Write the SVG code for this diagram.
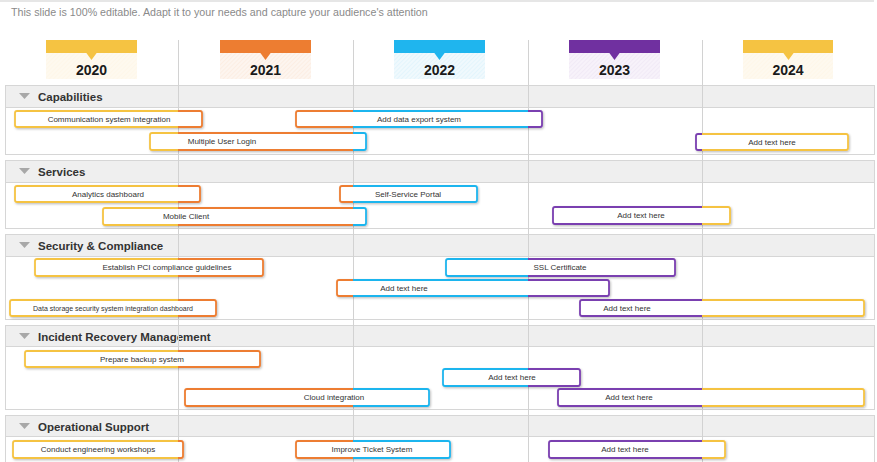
<svg xmlns="http://www.w3.org/2000/svg" width="877" height="462" viewBox="0 0 877 462">
<defs>
<style>
.sub{font-family:"Liberation Sans",Arial,sans-serif;font-size:10.7px;fill:#8a8a8a}
.yr{font-family:"Liberation Sans",Arial,sans-serif;font-size:14px;font-weight:bold;fill:#1a1a1a;text-anchor:middle}
.sec-band{fill:#efefef;stroke:#d6d6d6;stroke-width:1}
.sec-box{fill:#ffffff;stroke:#d6d6d6;stroke-width:1}
.sec-t{font-family:"Liberation Sans",Arial,sans-serif;font-size:11.5px;font-weight:bold;fill:#333333}
.tri{fill:#a8a8a8}
.col{stroke:#d2d2d2;stroke-width:1}
.bar{fill:#ffffff;stroke:url(#yearStroke);stroke-width:1.8;filter:url(#sh)}
.bt{font-family:"Liberation Sans",Arial,sans-serif;font-size:8px;fill:#333333;text-anchor:middle}
</style>
<linearGradient id="yearStroke" gradientUnits="userSpaceOnUse" x1="0" y1="0" x2="877" y2="0">
<stop offset="0" stop-color="#F5C342"/><stop offset="0.2030" stop-color="#F5C342"/>
<stop offset="0.2030" stop-color="#ED7D31"/><stop offset="0.4025" stop-color="#ED7D31"/>
<stop offset="0.4025" stop-color="#1FB5EE"/><stop offset="0.6021" stop-color="#1FB5EE"/>
<stop offset="0.6021" stop-color="#7A3FB0"/><stop offset="0.8005" stop-color="#7A3FB0"/>
<stop offset="0.8005" stop-color="#F5C342"/><stop offset="1" stop-color="#F5C342"/>
</linearGradient>
<filter id="sh" x="-5%" y="-30%" width="110%" height="170%">
<feDropShadow dx="1" dy="1.2" stdDeviation="0.8" flood-color="#000" flood-opacity="0.25"/>
</filter>
<pattern id="hY" width="3" height="3" patternUnits="userSpaceOnUse" patternTransform="rotate(45)">
<rect width="3" height="3" fill="#FEF9EF"/><line x1="0" y1="0" x2="0" y2="3" stroke="#F5C342" stroke-opacity="0.08" stroke-width="1"/>
</pattern>
<pattern id="hO" width="3" height="3" patternUnits="userSpaceOnUse" patternTransform="rotate(45)">
<rect width="3" height="3" fill="#FDF5EF"/><line x1="0" y1="0" x2="0" y2="3" stroke="#ED7D31" stroke-opacity="0.16" stroke-width="0.8"/>
</pattern>
<pattern id="hB" width="3" height="3" patternUnits="userSpaceOnUse" patternTransform="rotate(45)">
<rect width="3" height="3" fill="#F0F9FD"/><line x1="0" y1="0" x2="0" y2="3" stroke="#1FB5EE" stroke-opacity="0.16" stroke-width="0.8"/>
</pattern>
<pattern id="hP" width="3" height="3" patternUnits="userSpaceOnUse" patternTransform="rotate(45)">
<rect width="3" height="3" fill="#F7F2FA"/><line x1="0" y1="0" x2="0" y2="3" stroke="#7030A0" stroke-opacity="0.12" stroke-width="0.8"/>
</pattern>
</defs>
<rect width="877" height="462" fill="#ffffff"/>
<rect x="0" y="0" width="874" height="2" fill="#e6e6e6"/>
<text class="sub" x="11" y="16">This slide is 100% editable. Adapt it to your needs and capture your audience's attention</text>

<g id="sections">
<g id="sec-capabilities">
<rect class="sec-box" x="5.5" y="85.5" width="869" height="69"/>
<rect class="sec-band" x="5.5" y="85.5" width="869" height="22"/>
<polygon class="tri" points="19,93 30,93 24.5,99"/>
<text class="sec-t" x="38" y="101">Capabilities</text>
</g>
<g id="sec-services">
<rect class="sec-box" x="5.5" y="160.5" width="869" height="68"/>
<rect class="sec-band" x="5.5" y="160.5" width="869" height="22"/>
<polygon class="tri" points="19,168 30,168 24.5,174"/>
<text class="sec-t" x="38" y="176">Services</text>
</g>
<g id="sec-security">
<rect class="sec-box" x="5.5" y="234.5" width="869" height="85"/>
<rect class="sec-band" x="5.5" y="234.5" width="869" height="22"/>
<polygon class="tri" points="19,242 30,242 24.5,248"/>
<text class="sec-t" x="38" y="250">Security &amp; Compliance</text>
</g>
<g id="sec-incident">
<rect class="sec-box" x="5.5" y="325.5" width="869" height="84"/>
<rect class="sec-band" x="5.5" y="325.5" width="869" height="21"/>
<polygon class="tri" points="19,333 30,333 24.5,339"/>
<text class="sec-t" x="38" y="341">Incident Recovery Management</text>
</g>
<g id="sec-operational">
<rect class="sec-box" x="5.5" y="415.5" width="869" height="52"/>
<rect class="sec-band" x="5.5" y="415.5" width="869" height="21"/>
<polygon class="tri" points="19,423 30,423 24.5,429"/>
<text class="sec-t" x="38" y="431">Operational Support</text>
</g>
</g>

<g id="columns">
<line class="col" x1="178.5" y1="40" x2="178.5" y2="462"/>
<line class="col" x1="353.5" y1="40" x2="353.5" y2="462"/>
<line class="col" x1="528.5" y1="40" x2="528.5" y2="462"/>
<line class="col" x1="702.5" y1="40" x2="702.5" y2="462"/>
</g>

<g id="year-2020">
<rect x="46" y="53" width="91" height="26" fill="url(#hY)"/>
<rect x="46" y="40" width="91" height="13" fill="#F5C342"/>
<polygon points="86,52.5 97,52.5 91.5,60" fill="#F5C342"/>
<text class="yr" x="91.5" y="75">2020</text>
</g>
<g id="year-2021">
<rect x="220" y="53" width="91" height="26" fill="url(#hO)"/>
<rect x="220" y="40" width="91" height="13" fill="#ED7D31"/>
<polygon points="260,52.5 271,52.5 265.5,60" fill="#ED7D31"/>
<text class="yr" x="265.5" y="75">2021</text>
</g>
<g id="year-2022">
<rect x="394" y="53" width="91" height="26" fill="url(#hB)"/>
<rect x="394" y="40" width="91" height="13" fill="#1FB5EE"/>
<polygon points="434,52.5 445,52.5 439.5,60" fill="#1FB5EE"/>
<text class="yr" x="439.5" y="75">2022</text>
</g>
<g id="year-2023">
<rect x="569" y="53" width="91" height="26" fill="url(#hP)"/>
<rect x="569" y="40" width="91" height="13" fill="#7030A0"/>
<polygon points="609,52.5 620,52.5 614.5,60" fill="#7030A0"/>
<text class="yr" x="614.5" y="75">2023</text>
</g>
<g id="year-2024">
<rect x="743" y="53" width="90" height="26" fill="url(#hY)"/>
<rect x="743" y="40" width="90" height="13" fill="#F5C342"/>
<polygon points="783,52.5 794,52.5 788.5,60" fill="#F5C342"/>
<text class="yr" x="788" y="75">2024</text>
</g>

<g id="bars">
<g id="bar-comm"><rect class="bar" x="15" y="111" width="187" height="16" rx="2"/><text class="bt" x="109" y="122">Communication  system integration</text></g>
<g id="bar-export"><rect class="bar" x="296" y="111" width="246" height="16" rx="2"/><text class="bt" x="419" y="122">Add data export system</text></g>
<g id="bar-login"><rect class="bar" x="150" y="133" width="216" height="17" rx="2"/><text class="bt" x="222" y="144">Multiple  User Login</text></g>
<g id="bar-cap-2024"><rect class="bar" x="696" y="134" width="152" height="16" rx="2"/><text class="bt" x="772" y="145">Add text here</text></g>

<g id="bar-analytics"><rect class="bar" x="15" y="186" width="185" height="16" rx="2"/><text class="bt" x="108" y="197">Analytics dashboard</text></g>
<g id="bar-portal"><rect class="bar" x="340" y="186" width="137" height="16" rx="2"/><text class="bt" x="408" y="197">Self-Service Portal</text></g>
<g id="bar-mobile"><rect class="bar" x="103" y="208" width="263" height="17" rx="2"/><text class="bt" x="186" y="219">Mobile  Client</text></g>
<g id="bar-serv-2023"><rect class="bar" x="553" y="207" width="177" height="17" rx="2"/><text class="bt" x="641" y="218">Add text here</text></g>

<g id="bar-pci"><rect class="bar" x="35" y="259" width="228" height="17" rx="2"/><text class="bt" x="167" y="270">Establish PCI  compliance guidelines</text></g>
<g id="bar-ssl"><rect class="bar" x="446" y="259" width="229" height="17" rx="2"/><text class="bt" x="560" y="270">SSL Certificate</text></g>
<g id="bar-sec-2021"><rect class="bar" x="337" y="280" width="272" height="16" rx="2"/><text class="bt" x="404" y="291">Add text here</text></g>
<g id="bar-datastorage"><rect class="bar" x="10" y="300" width="206" height="16" rx="2"/><text class="bt" x="113" y="311" style="font-size:7px">Data storage security system integration dashboard</text></g>
<g id="bar-sec-2023"><rect class="bar" x="580" y="300" width="284" height="16" rx="2"/><text class="bt" x="627" y="311">Add text here</text></g>

<g id="bar-backup"><rect class="bar" x="25" y="351" width="235" height="16" rx="2"/><text class="bt" x="142" y="362">Prepare backup system</text></g>
<g id="bar-inc-2022"><rect class="bar" x="443" y="369" width="137" height="17" rx="2"/><text class="bt" x="512" y="380">Add text here</text></g>
<g id="bar-cloud"><rect class="bar" x="185" y="389" width="244" height="17" rx="2"/><text class="bt" x="334" y="400">Cloud  integration</text></g>
<g id="bar-inc-2023"><rect class="bar" x="558" y="389" width="306" height="17" rx="2"/><text class="bt" x="629" y="400">Add text here</text></g>

<g id="bar-workshops"><rect class="bar" x="13" y="441" width="170" height="17" rx="2"/><text class="bt" x="98" y="452">Conduct engineering workshops</text></g>
<g id="bar-ticket"><rect class="bar" x="296" y="441" width="154" height="17" rx="2"/><text class="bt" x="372" y="452">Improve Ticket System</text></g>
<g id="bar-op-2023"><rect class="bar" x="549" y="441" width="176" height="17" rx="2"/><text class="bt" x="625" y="452">Add text here</text></g>
</g>
</svg>
